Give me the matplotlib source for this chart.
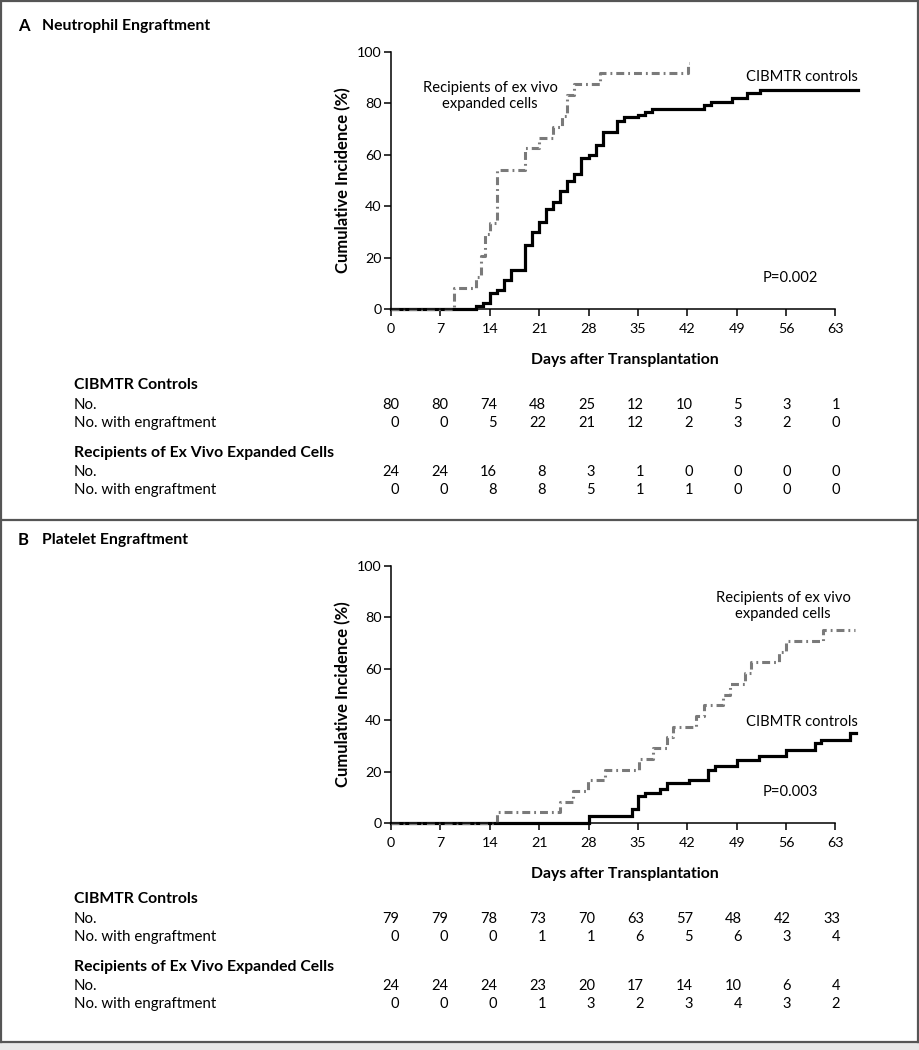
import matplotlib
matplotlib.use('Agg')
import matplotlib.pyplot as plt
from matplotlib.patches import Rectangle
from matplotlib.lines import Line2D

plt.rcParams['font.family'] = ['Lato', 'DejaVu Sans']

W, H = 919, 1050

# --- data ---
neu_ctrl_days = [0, 12, 13, 14, 15, 16, 17, 19, 20, 21, 22, 23, 24, 25, 26, 27, 28, 29, 30,
                 32, 33, 35, 36, 37, 44.3, 45.3, 48.4, 50.4, 52.3, 66.2]
neu_ctrl_pct = [0, 1.2, 2.5, 6.3, 7.5, 11.3, 15, 25, 30, 34, 39, 41.5, 46, 50, 52.5, 58.8, 60,
                63.7, 68.8, 73.3, 74.6, 75.5, 76.8, 78, 79.4, 80.7, 82, 83.9, 85.2, 85.2]
neu_exp_days = [0, 9, 12, 12.8, 13.3, 14, 15, 19, 21, 23, 24.2, 25, 26, 29.6, 42.1, 42.2]
neu_exp_pct = [0, 8.3, 12.5, 20.8, 29.2, 33.3, 54.2, 62.5, 66.7, 70.8, 75, 83.3, 87.5, 91.7,
               95.8, 95.8]

plt_ctrl_days = [0, 28, 34.2, 35, 36, 38.2, 39.1, 42.2, 45, 45.9, 49, 52.1, 56, 60.1, 61,
                 65.1, 65.9]
plt_ctrl_pct = [0, 2.6, 5.4, 10.4, 11.7, 13.2, 15.5, 16.8, 20.7, 22, 24.6, 26.2, 28.5, 31.3,
                32.4, 35, 35]
plt_exp_days = [0, 15, 24, 25.8, 27.9, 30.3, 35.1, 37.2, 39.1, 40, 43.3, 44.3, 47.1, 48,
                50.2, 51.1, 55, 56, 61.3, 65.8]
plt_exp_pct = [0, 4.2, 8.3, 12.5, 16.7, 20.8, 25, 29.2, 33.3, 37.5, 41.7, 45.8, 50, 54.2,
               58.3, 62.5, 66.7, 70.8, 75, 75]

x_ticks = [0, 7, 14, 21, 28, 35, 42, 49, 56, 63]
y_ticks = [0, 20, 40, 60, 80, 100]

neu_ctrl_no = [80, 80, 74, 48, 25, 12, 10, 5, 3, 1]
neu_ctrl_eng = [0, 0, 5, 22, 21, 12, 2, 3, 2, 0]
neu_exp_no = [24, 24, 16, 8, 3, 1, 0, 0, 0, 0]
neu_exp_eng = [0, 0, 8, 8, 5, 1, 1, 0, 0, 0]

plt_ctrl_no = [79, 79, 78, 73, 70, 63, 57, 48, 42, 33]
plt_ctrl_eng = [0, 0, 0, 1, 1, 6, 5, 6, 3, 4]
plt_exp_no = [24, 24, 24, 23, 20, 17, 14, 10, 6, 4]
plt_exp_eng = [0, 0, 0, 1, 3, 2, 3, 4, 3, 2]

GRAY = '#7a7a7a'


def fx(x):
    return x / W


def fy(y):
    return 1 - y / H


fig = plt.figure(figsize=(W / 100, H / 100), dpi=100)

# frame
frame_kw = dict(transform=fig.transFigure, color='#555555', lw=1.6)
fig.add_artist(Line2D([fx(1), fx(1)], [fy(0), fy(1042)], **frame_kw))
fig.add_artist(Line2D([fx(917.5), fx(917.5)], [fy(0), fy(1042)], **frame_kw))
fig.add_artist(Line2D([fx(0), fx(919)], [fy(0.8), fy(0.8)], **frame_kw))
fig.add_artist(Line2D([fx(0), fx(919)], [fy(520), fy(520)], **frame_kw))
fig.add_artist(Line2D([fx(0), fx(919)], [fy(1042), fy(1042)], **frame_kw))
fig.add_artist(Rectangle((0, 0), 1, fy(1043), transform=fig.transFigure,
                         facecolor='#e8e8e8', edgecolor='none'))


def panel(top, letter, title, ctrl, exp, ctrl_lab, exp_lab, pval, tables):
    fig.text(fx(18), fy(top - 26), letter, fontsize=12, fontweight='bold', va='center')
    fig.text(fx(42), fy(top - 26), title, fontsize=11.3, fontweight='bold', va='center')

    ax = fig.add_axes([fx(391), fy(top + 257), fx(858) - fx(391), 257 / H])
    ax.step(ctrl[0], ctrl[1], where='post', color='black', lw=2.3, clip_on=False,
            solid_joinstyle='miter')
    ax.step(exp[0], exp[1], where='post', color=GRAY, lw=2.2, clip_on=False,
            linestyle=(0, (2.6, 1.3, 0.6, 1.3)))
    ax.set_xlim(0, 66.2)
    ax.set_ylim(0, 100)
    ax.set_xticks(x_ticks)
    ax.set_yticks(y_ticks)
    for s in ['top', 'right']:
        ax.spines[s].set_visible(False)
    ax.spines['bottom'].set_bounds(0, 63)
    ax.spines['left'].set_linewidth(1.1)
    ax.spines['bottom'].set_linewidth(1.1)
    ax.tick_params(direction='out', length=5, width=1.1, labelsize=10.3)
    ax.tick_params(axis='x', pad=5)
    ax.tick_params(axis='y', pad=2)
    ax.set_ylabel('Cumulative Incidence (%)', fontsize=12, fontweight='bold', labelpad=4)
    ax.set_xlabel('Days after Transplantation', fontsize=11.3, fontweight='bold',
                  labelpad=13)
    ax.patch.set_alpha(0)

    for txt, xy, ha in [ctrl_lab, exp_lab, pval]:
        fig.text(fx(xy[0]), fy(xy[1]), txt, fontsize=10.6, ha=ha, va='center',
                 linespacing=1.25)

    # numbers at risk
    t0 = top + 333
    rows = [('CIBMTR Controls', None, 0, True),
            ('No.', tables[0], 20, False),
            ('No. with engraftment', tables[1], 38, False),
            ('Recipients of Ex Vivo Expanded Cells', None, 68, True),
            ('No.', tables[2], 87, False),
            ('No. with engraftment', tables[3], 105, False)]
    for lab, vals, dy, bold in rows:
        fig.text(fx(74), fy(t0 + dy), lab, fontsize=11.3 if bold else 10.8,
                 fontweight='bold' if bold else 'normal', va='center')
        if vals is not None:
            for i, v in enumerate(vals):
                fig.text(fx(399 + 49 * i), fy(t0 + dy), str(v), fontsize=10.5,
                         ha='right', va='center')
    return ax


panel(52, 'A', 'Neutrophil Engraftment',
      (neu_ctrl_days, neu_ctrl_pct), (neu_exp_days, neu_exp_pct),
      ('CIBMTR controls', (858, 77), 'right'),
      ('Recipients of ex vivo\nexpanded cells', (490, 96), 'center'),
      ('P=0.002', (763, 278), 'left'),
      (neu_ctrl_no, neu_ctrl_eng, neu_exp_no, neu_exp_eng))

panel(566, 'B', 'Platelet Engraftment',
      (plt_ctrl_days, plt_ctrl_pct), (plt_exp_days, plt_exp_pct),
      ('CIBMTR controls', (858, 722), 'right'),
      ('Recipients of ex vivo\nexpanded cells', (783, 606), 'center'),
      ('P=0.003', (763, 792), 'left'),
      (plt_ctrl_no, plt_ctrl_eng, plt_exp_no, plt_exp_eng))

fig.savefig('out.png', dpi=100, facecolor='white')
